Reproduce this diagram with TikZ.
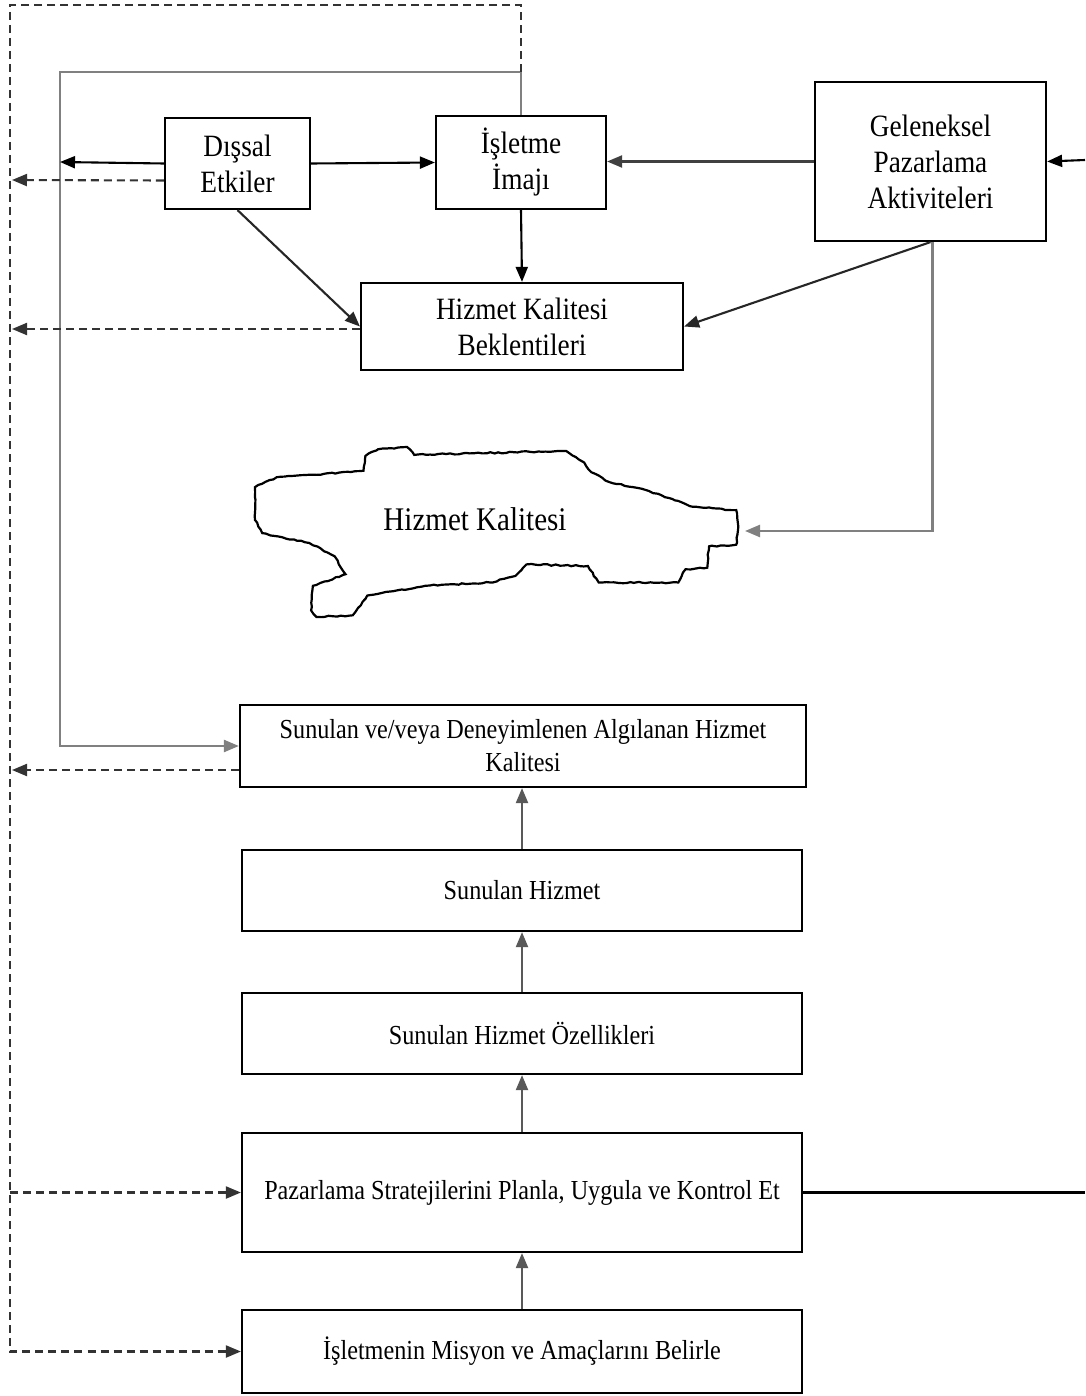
\documentclass[tikz,border=0pt]{standalone}
\usepackage{fontspec}
\setmainfont{Liberation Serif}[FakeStretch=0.88]
\usetikzlibrary{arrows.meta,decorations.pathmorphing}

\tikzset{
  box/.style={draw=black, line width=2.2pt, align=center, inner sep=2pt},
  topfont/.style={font=\fontsize{31}{36}\selectfont},
  lowfont/.style={font=\fontsize{27.5}{33}\selectfont},
  tip/.style={-{Triangle[length=15pt,width=12pt]}},
  link/.style={line width=2.1pt, draw=black},
  frame/.style={line width=2.3pt, draw=black!50},
  fb/.style={line width=2.1pt, draw=black!80, dash pattern=on 8pt off 5pt},
}

\begin{document}
\begin{tikzpicture}[x=1pt,y=-1pt]
\useasboundingbox[fill=white] (0,0) rectangle (1085,1396);

% upper boxes
\node[box,topfont,minimum width=145,minimum height=91] (dis) at (237.5,163.5) {Dışsal\\Etkiler};
\node[box,topfont,minimum width=170,minimum height=93] (isl) at (521,162.5) {İşletme\\İmajı};
\node[box,topfont,minimum width=231,minimum height=159] (gel) at (930.5,161.5) {Geleneksel\\Pazarlama\\Aktiviteleri};
\node[box,topfont,minimum width=322,minimum height=87] (hkb) at (522,326.5) {Hizmet Kalitesi\\Beklentileri};

% service quality cloud
\pgfmathsetseed{7}
\draw[line width=2.2pt, decorate, decoration={random steps,segment length=4pt,amplitude=0.7pt}]
  (363.5,470.7) -- (365.4,455.9) -- (378,449.3) -- (407,447) -- (414.2,454.9)
  -- (566.1,450.9) -- (584.2,462.5) -- (591.5,472.3) -- (609.6,482.2)
  -- (642.1,488.8) -- (674.7,500.3) -- (692.8,506.8) -- (736.2,510.1)
  -- (738,529.9) -- (736.2,544.7) -- (709.1,546.3) -- (707.3,567.7)
  -- (685.5,569.3) -- (678.3,582.5) -- (598.7,582.5) -- (587.9,566)
  -- (526.4,564.4) -- (515.5,575.9) -- (490.2,582.5) -- (425.1,585.8)
  -- (367.2,595.6) -- (352.7,615.3) -- (316.5,617) -- (311.1,610.4)
  -- (312.9,585.8) -- (345.5,574.2) -- (334.6,556.2) -- (309.3,543)
  -- (262.2,533.1) -- (255,520) -- (255,487.1) -- (276.7,477.2)
  -- (323.7,473.9) -- cycle;
\node[font=\fontsize{33}{38}\selectfont] (hk) at (475,519) {Hizmet Kalitesi};
\coordinate (cloudin) at (745,531);

% lower chain
\node[box,lowfont,minimum width=566,minimum height=82] (svd) at (523,746) {Sunulan ve/veya Deneyimlenen Algılanan Hizmet\\Kalitesi};
\node[box,lowfont,minimum width=560,minimum height=81] (sh) at (522,890.5) {Sunulan Hizmet};
\node[box,lowfont,minimum width=560,minimum height=81] (sho) at (522,1033.5) {Sunulan Hizmet Özellikleri};
\node[box,lowfont,minimum width=560,minimum height=119] (pz) at (522,1192.5) {Pazarlama Stratejilerini Planla, Uygula ve Kontrol Et};
\node[box,lowfont,minimum width=560,minimum height=83] (mis) at (522,1351.5) {İşletmenin Misyon ve Amaçlarını Belirle};

% routing points
\coordinate (jn) at (521,72);
\coordinate (ftl) at (60,72);
\coordinate (fd) at (60,162);
\coordinate (dtr) at (521,5);
\coordinate (dtl) at (10,5);
\coordinate (o1) at (12,180);
\coordinate (o2) at (12,329);
\coordinate (o3) at (12,770);
\coordinate (dpz) at (10,1192.5);
\coordinate (rin) at (1085,160);
\coordinate (rout) at (1085,1192.5);

% solid feedback frame
\draw[frame,tip] (isl.north) -- (jn) -- (ftl) |- (svd.west);

% dashed feedback frame
\draw[fb,tip] (jn) -- (dtr) -- (dtl) |- (mis.west);
\draw[fb,tip] (dpz) -- (pz.west);
\draw[fb,tip] ([yshift=-17]dis.west) -- (o1);
\draw[fb,tip] ([yshift=-2.5]hkb.west) -- (o2);
\draw[fb,tip] ([yshift=-24]svd.west) -- (o3);

% upper connectors
\draw[link,tip] (dis.west) -- (fd);
\draw[link,tip] (dis.east) -- (isl.west);
\draw[link,tip,draw=black!85] (dis.south) -- (hkb.west);
\draw[link,tip] (isl.south) -- (hkb.north);
\draw[link,tip,draw=black!75] (gel.west) -- (gel.west -| isl.east);
\draw[link,tip] (rin) -- (gel.east);
\draw[link,tip,draw=black!85] (gel.south) -- (hkb.east);
\draw[frame,tip] ([xshift=2]gel.south) |- (cloudin);

% lower connectors
\draw[link,tip,draw=black!65] (sh.north) -- (sh.north |- svd.south);
\draw[link,tip,draw=black!65] (sho.north) -- (sh.south);
\draw[link,tip,draw=black!65] (pz.north) -- (sho.south);
\draw[link,tip,draw=black!65] (mis.north) -- (pz.south);
\draw[link] (pz.east) -- (rout);
\end{tikzpicture}
\end{document}
